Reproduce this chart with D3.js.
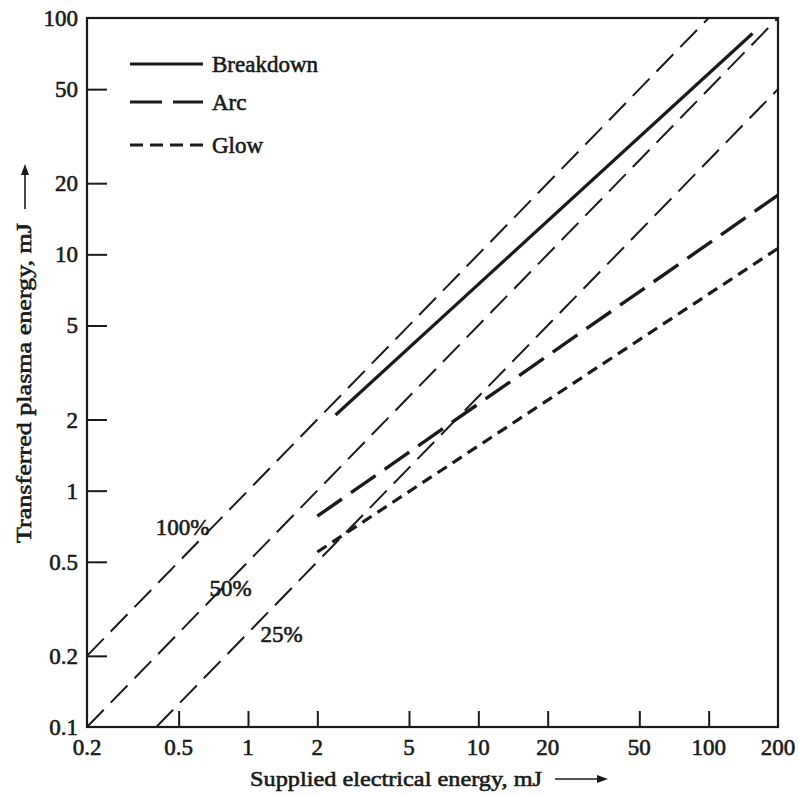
<!DOCTYPE html>
<html><head><meta charset="utf-8">
<script src="https://cdn.jsdelivr.net/npm/d3@7"></script>
<style>body{margin:0;background:#fff}svg{display:block}text{font-family:"Liberation Serif","DejaVu Serif",serif;fill:#1a1a1a;stroke:#1a1a1a;stroke-width:0.6px}</style>
</head><body><div id="chart"></div>
<script>
const xTicks = [0.5, 1, 2, 5, 10, 20, 50, 100];
const xLabelValues = [0.2, 0.5, 1, 2, 5, 10, 20, 50, 100, 200];
const xTickLabels = ["0.2", "0.5", "1", "2", "5", "10", "20", "50", "100", "200"];
const yTicks = [0.2, 0.5, 1, 2, 5, 10, 20, 50];
const yLabelValues = [0.1, 0.2, 0.5, 1, 2, 5, 10, 20, 50, 100];
const yTickLabels = ["0.1", "0.2", "0.5", "1", "2", "5", "10", "20", "50", "100"];

// Efficiency reference lines (transferred = ratio * supplied)
const ratioNames = ["100%", "50%", "25%"];
const ratios = [1, 0.5, 0.25];
const ratioXStart = [0.2, 0.2, 0.4];
const ratioXEnd = [100, 200, 200];
const ratioLabelX = [0.52, 0.84, 1.4];
const ratioLabelY = [0.65, 0.36, 0.23];

// Discharge modes
const seriesNames = ["Breakdown", "Arc", "Glow"];
const breakdownX = [2.4, 155];
const breakdownY = [2.09, 86];
const arcX = [2, 200];
const arcY = [0.78, 17.8];
const glowX = [2, 200];
const glowY = [0.55, 10.6];

const W = 799, H = 796;
const m = {l: 87, r: 21, t: 18, b: 69};
const svg = d3.select("#chart").append("svg").attr("width", W).attr("height", H);
const x = d3.scaleLog().domain([0.2, 200]).range([m.l, W - m.r]);
const y = d3.scaleLog().domain([0.1, 100]).range([H - m.b, m.t]);
const ink = "#1a1a1a";

// frame
svg.append("rect").attr("x", x(0.2)).attr("y", y(100)).attr("width", x(200) - x(0.2)).attr("height", y(0.1) - y(100))
  .attr("fill", "none").attr("stroke", ink).attr("stroke-width", 2.2);

// ticks inward
const gx = svg.append("g").attr("transform", `translate(0,${y(0.1)})`)
  .call(d3.axisBottom(x).tickValues(xTicks).tickSize(-16).tickFormat(""));
gx.select(".domain").remove();
gx.selectAll("line").attr("stroke", ink).attr("stroke-width", 2);
const gy = svg.append("g").attr("transform", `translate(${x(0.2)},0)`)
  .call(d3.axisLeft(y).tickValues(yTicks).tickSize(-20).tickFormat(""));
gy.select(".domain").remove();
gy.selectAll("line").attr("stroke", ink).attr("stroke-width", 2);

// tick labels
svg.append("g").selectAll("text").data(xLabelValues).join("text")
  .attr("x", d => x(d)).attr("y", y(0.1) + 28).attr("text-anchor", "middle")
  .attr("font-size", 23).text((d, i) => xTickLabels[i]);
svg.append("g").selectAll("text").data(yLabelValues).join("text")
  .attr("x", x(0.2) - 9).attr("y", d => y(d) + 8).attr("text-anchor", "end")
  .attr("font-size", 23).text((d, i) => yTickLabels[i]);

// axis titles
svg.append("text").attr("x", 250).attr("y", 786).attr("font-size", 22)
  .attr("textLength", 292).attr("lengthAdjust", "spacingAndGlyphs").text("Supplied electrical energy, mJ");
svg.append("line").attr("x1", 555).attr("x2", 600).attr("y1", 779).attr("y2", 779).attr("stroke", ink).attr("stroke-width", 1.6);
svg.append("path").attr("d", "M608,779 l-11,-4 l0,8 z").attr("fill", ink);
svg.append("text").attr("transform", "translate(31,543) rotate(-90)").attr("font-size", 22)
  .attr("textLength", 320).attr("lengthAdjust", "spacingAndGlyphs").text("Transferred plasma energy, mJ");
svg.append("line").attr("x1", 25).attr("x2", 25).attr("y1", 209).attr("y2", 172).attr("stroke", ink).attr("stroke-width", 1.6);
svg.append("path").attr("d", "M25,164 l-4,11 l8,0 z").attr("fill", ink);

svg.append("clipPath").attr("id", "pc").append("rect")
  .attr("x", x(0.2)).attr("y", y(100)).attr("width", x(200) - x(0.2)).attr("height", y(0.1) - y(100));
const plot = svg.append("g").attr("clip-path", "url(#pc)");
const line = d3.line().x(d => x(d[0])).y(d => y(d[1]));

// efficiency lines
ratios.forEach((r, i) => {
  const pts = [[ratioXStart[i], ratioXStart[i] * r], [ratioXEnd[i], ratioXEnd[i] * r]];
  plot.append("path").attr("d", line(pts)).attr("fill", "none").attr("stroke", ink)
    .attr("stroke-width", 2).attr("stroke-dasharray", "24,10");
  svg.append("text").attr("x", x(ratioLabelX[i])).attr("y", y(ratioLabelY[i])).attr("font-size", 23)
    .attr("text-anchor", "middle").text(ratioNames[i]);
});

// series
const styles = [
  {xs: breakdownX, ys: breakdownY, dash: null, w: 3.2},
  {xs: arcX, ys: arcY, dash: "30,11", w: 3.4},
  {xs: glowX, ys: glowY, dash: "11,7", w: 3.2}
];
styles.forEach(s => {
  plot.append("path").attr("d", line(s.xs.map((v, i) => [v, s.ys[i]]))).attr("fill", "none")
    .attr("stroke", ink).attr("stroke-width", s.w).attr("stroke-dasharray", s.dash);
});

// legend
const legY = [64, 102, 145];
const legDash = [null, "32,11", "13,7"];
seriesNames.forEach((n, i) => {
  svg.append("line").attr("x1", 130).attr("x2", 203).attr("y1", legY[i]).attr("y2", legY[i])
    .attr("stroke", ink).attr("stroke-width", 3.2).attr("stroke-dasharray", legDash[i]);
  svg.append("text").attr("x", 212).attr("y", legY[i] + 8).attr("font-size", 23).text(n);
});
</script></body></html>
